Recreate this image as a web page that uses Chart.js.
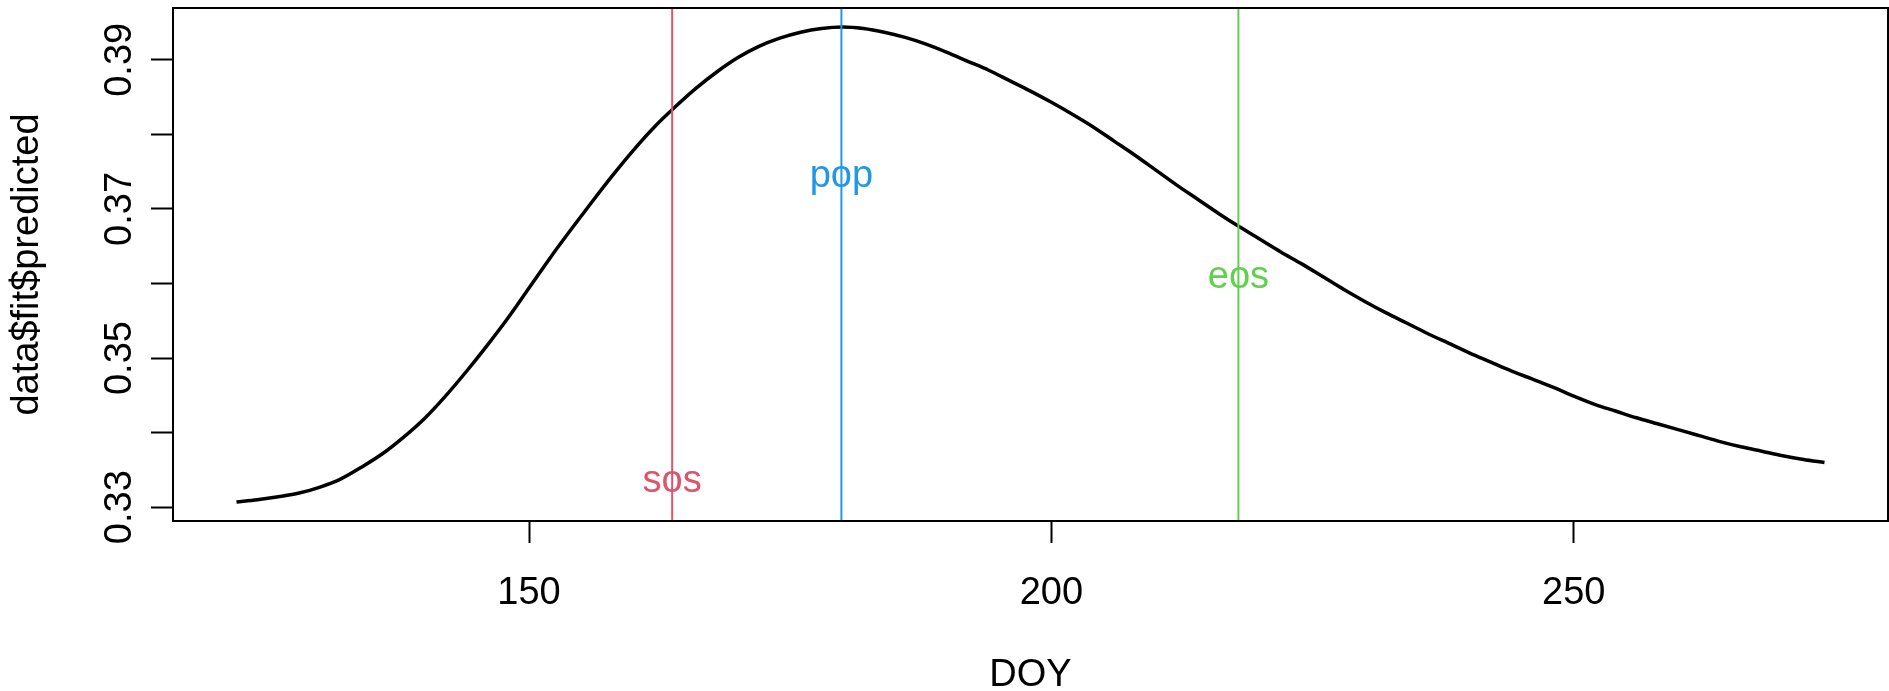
<!DOCTYPE html>
<html>
<head>
<meta charset="utf-8">
<script src="https://cdn.jsdelivr.net/npm/chart.js@4.4.1/dist/chart.umd.min.js"></script>
<style>
html,body{margin:0;padding:0;background:#ffffff;}
#wrap{width:1889px;height:691px;}
</style>
</head>
<body>
<div id="wrap"><canvas id="c" width="1889" height="691"></canvas></div>
<script>
// ---- data ----
const doy = [122,124,126,128,130,132,134,136,138,140,142,144,146,148,150,152,154,156,158,160,
             162,164,166,168,170,172,174,176,178,180,182,184,186,188,190,192,194,196,198,200,
             202,204,206,208,210,212,214,216,218,220,222,224,226,228,230,232,234,236,238,240,
             242,244,246,248,250,252,254,256,258,260,262,264,266,268,270,272,274];
const predicted = [0.3307,0.3310,0.3314,0.3319,0.3327,0.3338,0.3354,0.3372,0.3394,0.3419,
                   0.3449,0.3482,0.3517,0.3554,0.3594,0.3634,0.3672,0.3709,0.3745,0.3779,
                   0.3810,0.3837,0.3862,0.3884,0.3903,0.3918,0.3929,0.3937,0.3942,0.3944,
                   0.3942,0.3937,0.3930,0.3921,0.3910,0.3898,0.3886,0.3872,0.3858,0.3843,
                   0.3827,0.3810,0.3791,0.3772,0.3752,0.3732,0.3713,0.3694,0.3676,0.3659,
                   0.3642,0.3626,0.3609,0.3592,0.3576,0.3561,0.3547,0.3533,0.3520,0.3507,
                   0.3495,0.3483,0.3472,0.3461,0.3449,0.3438,0.3429,0.3420,0.3412,0.3404,
                   0.3396,0.3388,0.3381,0.3375,0.3369,0.3364,0.3360];
const xTickValues = [150, 200, 250];
const xTickLabels = ['150', '200', '250'];
const yTickValues = [0.33, 0.34, 0.35, 0.36, 0.37, 0.38, 0.39];
const yTickLabels = ['0.33', '', '0.35', '', '0.37', '', '0.39'];
const markerNames = ['sos', 'pop', 'eos'];
const markerDoy = [163.7, 179.9, 217.9];
const markerLabelY = [0.3334, 0.3743, 0.3608];
const markerColors = ['#DF536B', '#2297E6', '#61D04F'];
const xTitle = 'DOY';
const yTitle = 'data$fit$predicted';

// R-style axis limits: data range extended by 4% on each side
const xLo = Math.min(...doy), xHi = Math.max(...doy);
const yLo = Math.min(...predicted), yHi = Math.max(...predicted);
const xMin = xLo - 0.04 * (xHi - xLo), xMax = xHi + 0.04 * (xHi - xLo);
const yMin = yLo - 0.04 * (yHi - yLo), yMax = yHi + 0.04 * (yHi - yLo);

const FONT = '"Liberation Sans", Arial, sans-serif';
const FS = 38;

const datasets = [{
  data: doy.map((d, i) => ({x: d, y: predicted[i]})),
  borderColor: '#000000',
  borderWidth: 3.5,
  pointRadius: 0,
  cubicInterpolationMode: 'monotone',
  order: 1
}];
markerDoy.forEach((d, i) => {
  datasets.push({
    data: [{x: d, y: yMin}, {x: d, y: yMax}],
    borderColor: markerColors[i],
    borderWidth: 2,
    pointRadius: 0,
    order: 0
  });
});

const decor = {
  id: 'decor',
  afterDatasetsDraw(chart) {
    const {ctx, chartArea: a, scales: {x, y}} = chart;
    ctx.save();
    ctx.font = FS + 'px ' + FONT;
    ctx.textAlign = 'center';
    ctx.textBaseline = 'middle';
    markerNames.forEach((n, i) => {
      ctx.fillStyle = markerColors[i];
      ctx.fillText(n, x.getPixelForValue(markerDoy[i]), y.getPixelForValue(markerLabelY[i]));
    });
    ctx.strokeStyle = '#000000';
    ctx.lineWidth = 2;
    ctx.strokeRect(a.left, a.top, a.right - a.left, a.bottom - a.top);
    ctx.restore();
  }
};

function zeroPad(s) { s.paddingTop = 0; s.paddingBottom = 0; s.paddingLeft = 0; s.paddingRight = 0; }

new Chart(document.getElementById('c'), {
  type: 'line',
  data: {datasets},
  options: {
    responsive: false,
    animation: false,
    layout: {padding: {left: 0, right: 1, top: 8, bottom: 0}},
    plugins: {legend: {display: false}, tooltip: {enabled: false}},
    scales: {
      x: {
        type: 'linear', position: 'bottom', min: xMin, max: xMax,
        afterBuildTicks: s => { s.ticks = xTickValues.map(v => ({value: v})); },
        afterFit: s => { s.height = 170; zeroPad(s); },
        ticks: {
          color: '#000', font: {size: FS, family: FONT}, padding: 28,
          maxRotation: 0, minRotation: 0, autoSkip: false,
          callback: (v, i) => xTickLabels[i]
        },
        grid: {display: true, drawOnChartArea: false, drawTicks: true, tickLength: 22, tickWidth: 2, tickColor: '#000'},
        border: {display: false},
        title: {display: true, text: xTitle, color: '#000', font: {size: FS, family: FONT, lineHeight: 0.8}, padding: {top: 0, bottom: 0}}
      },
      y: {
        type: 'linear', position: 'left', min: yMin, max: yMax,
        afterBuildTicks: s => { s.ticks = yTickValues.map(v => ({value: v})); },
        afterFit: s => { s.width = 173; zeroPad(s); },
        ticks: {
          color: '#000', font: {size: FS, family: FONT}, padding: 30,
          minRotation: 90, maxRotation: 90, autoSkip: false, labelOffset: -37,
          callback: (v, i) => yTickLabels[i]
        },
        grid: {display: true, drawOnChartArea: false, drawTicks: true, tickLength: 22, tickWidth: 2, tickColor: '#000'},
        border: {display: false},
        title: {display: true, text: yTitle, color: '#000', font: {size: FS, family: FONT, lineHeight: 1}, padding: {top: 9, bottom: 0}}
      }
    }
  },
  plugins: [decor]
});
</script>
</body>
</html>
